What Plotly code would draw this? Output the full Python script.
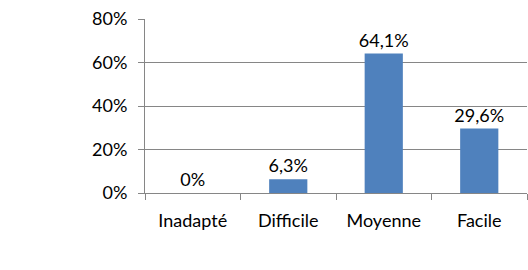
import plotly.graph_objects as go

categories = ["Inadapté", "Difficile", "Moyenne", "Facile"]
values = [0.0, 6.3, 64.1, 29.6]
labels = ["0%", "6,3%", "64,1%", "29,6%"]
y_ticks = [0, 20, 40, 60, 80]
y_ticktext = ["0%", "20%", "40%", "60%", "80%"]

grey = "#868686"
font = dict(family="Lato, Open Sans, sans-serif", size=18, color="#000000")

fig = go.Figure(go.Bar(
    x=categories, y=values,
    marker=dict(color="#4F81BD", line=dict(width=0)),
    text=labels, textposition="outside", cliponaxis=False,
    constraintext="none", textfont=font,
))
fig.update_layout(
    width=528, height=270,
    margin=dict(l=145, r=1, t=19, b=77),
    paper_bgcolor="white", plot_bgcolor="white",
    bargap=0.6, showlegend=False, font=font,
)
fig.update_xaxes(
    showline=True, linecolor=grey, linewidth=1,
    ticks="outside", tickson="boundaries", ticklen=6, tickcolor=grey,
    showgrid=False, tickfont=font, ticklabelstandoff=11,
)
fig.update_yaxes(
    range=[0, 80], tickvals=y_ticks, ticktext=y_ticktext,
    showline=True, linecolor=grey, linewidth=1,
    ticks="outside", ticklen=6, tickcolor=grey,
    showgrid=True, gridcolor=grey, gridwidth=1, zeroline=False,
    tickfont=font, ticklabelstandoff=7,
)
fig.write_html("out.html")
